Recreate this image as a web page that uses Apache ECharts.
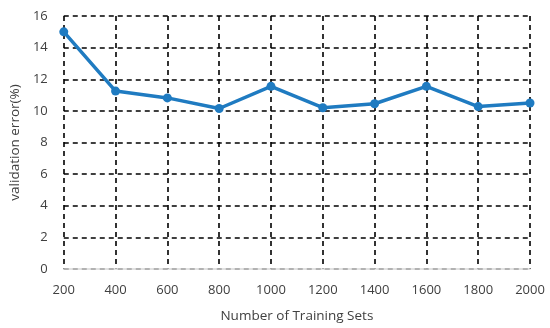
<!DOCTYPE html>
<html lang="en">
<head>
    <meta charset="UTF-8">
    <title>Validation error</title>
    <script src="https://cdn.jsdelivr.net/npm/echarts@6/dist/echarts.min.js"></script>
    <style>
        html, body { margin: 0; padding: 0; background: #fff; }
        #main { width: 550px; height: 328px; }
    </style>
</head>
<body>
<div id="main"></div>
<script type="text/javascript">
    // data
    var trainingSets = ['200', '400', '600', '800', '1000', '1200', '1400', '1600', '1800', '2000'];
    var validationError = [15.0, 11.25, 10.82, 10.15, 11.55, 10.2, 10.45, 11.55, 10.27, 10.5];

    var font = '"Open Sans", "Liberation Sans", sans-serif';
    var dashed = { color: '#000', width: 1.6, type: [5, 4] };

    var myChart = echarts.init(document.getElementById('main'));

    var option = {
        animation: false,
        grid: { left: 61, right: 20, top: 16, bottom: 57 },
        xAxis: {
            type: 'category',
            data: trainingSets,
            boundaryGap: false,
            name: 'Number of Training Sets',
            nameLocation: 'middle',
            nameGap: 40,
            nameTextStyle: { fontFamily: font, fontSize: 13.5, color: '#404040' },
            axisLine: { lineStyle: { color: '#d9d9d9', width: 1.5 } },
            axisTick: { show: false },
            axisLabel: { fontFamily: font, fontSize: 13, color: '#404040', margin: 15 },
            splitLine: { show: true, lineStyle: dashed }
        },
        yAxis: {
            type: 'value',
            min: 0,
            max: 16,
            interval: 2,
            name: 'validation error(%)',
            nameLocation: 'middle',
            nameGap: 40,
            nameTextStyle: { fontFamily: font, fontSize: 13.5, color: '#404040' },
            axisLine: { show: false },
            axisTick: { show: false },
            axisLabel: { fontFamily: font, fontSize: 13, color: '#404040', margin: 16 },
            splitLine: { show: true, lineStyle: dashed }
        },
        series: [{
            type: 'line',
            data: validationError,
            symbol: 'circle',
            symbolSize: 9,
            lineStyle: { color: '#1f7bc1', width: 3.5 },
            itemStyle: { color: '#1f7bc1' }
        }]
    };

    myChart.setOption(option);
</script>
</body>
</html>
